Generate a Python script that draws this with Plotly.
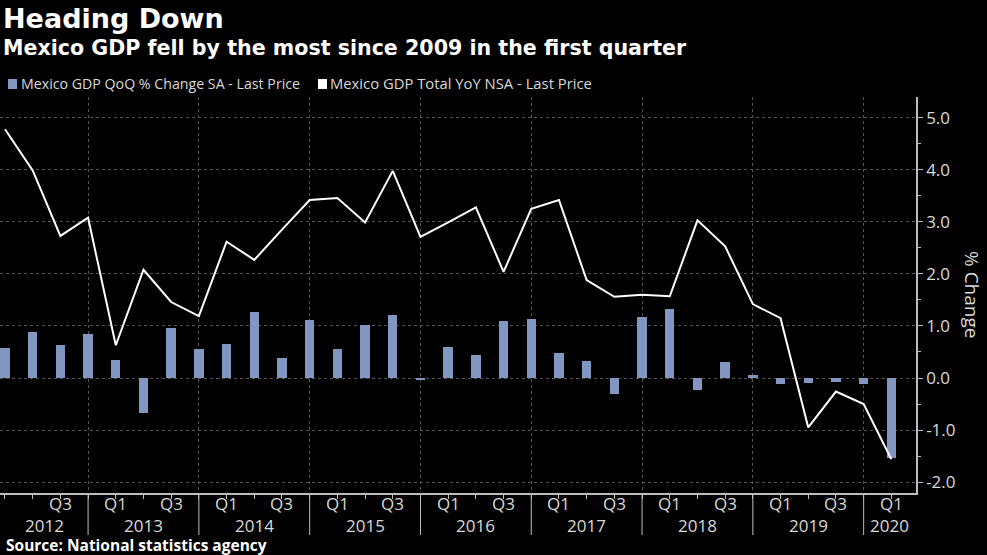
import plotly.graph_objects as go

# ---------------- data ----------------
quarters = [
    "2012 Q1", "2012 Q2", "2012 Q3", "2012 Q4",
    "2013 Q1", "2013 Q2", "2013 Q3", "2013 Q4",
    "2014 Q1", "2014 Q2", "2014 Q3", "2014 Q4",
    "2015 Q1", "2015 Q2", "2015 Q3", "2015 Q4",
    "2016 Q1", "2016 Q2", "2016 Q3", "2016 Q4",
    "2017 Q1", "2017 Q2", "2017 Q3", "2017 Q4",
    "2018 Q1", "2018 Q2", "2018 Q3", "2018 Q4",
    "2019 Q1", "2019 Q2", "2019 Q3", "2019 Q4",
    "2020 Q1",
]
qoq_sa = [
    0.57, 0.88, 0.63, 0.84,
    0.35, -0.67, 0.96, 0.55,
    0.65, 1.26, 0.38, 1.11,
    0.55, 1.02, 1.21, -0.02,
    0.60, 0.45, 1.10, 1.14,
    0.48, 0.33, -0.31, 1.17,
    1.33, -0.23, 0.30, 0.06,
    -0.12, -0.09, -0.07, -0.12,
    -1.53,
]
yoy_nsa = [
    4.78, 3.99, 2.73, 3.08,
    0.63, 2.08, 1.46, 1.19,
    2.62, 2.27, 2.85, 3.42,
    3.46, 2.99, 3.98, 2.71,
    2.99, 3.28, 2.04, 3.25,
    3.42, 1.88, 1.56, 1.60,
    1.57, 3.03, 2.53, 1.42,
    1.15, -0.95, -0.26, -0.50,
    -1.56,
]
years = ["2012", "2013", "2014", "2015", "2016", "2017", "2018", "2019", "2020"]
y_ticks = [-2, -1, 0, 1, 2, 3, 4, 5]
series_names = ["Mexico GDP QoQ % Change SA - Last Price",
                "Mexico GDP Total YoY NSA - Last Price"]
source_text = "Source: National statistics agency"
title_text = "Heading Down"
subtitle_text = "Mexico GDP fell by the most since 2009 in the first quarter"
y_title = "% Change"

# ---------------- styling ----------------
BAR_COLOR = "#8197c2"
TEXT = "#d9d9d9"
AXIS = "#bdbdbd"
GRID = "#555555"
FONT = "Open Sans"
BOLD = "DejaVu Sans"

W, H = 987, 555
ML, MR, MT, MB = 0, 71, 97, 62
PW, PH = W - ML - MR, H - MT - MB


def py(pix):
    """pixel row (from top of figure) -> paper y"""
    return (H - MB - pix) / PH


def px(pix):
    return (pix - ML) / PW


x = list(range(len(quarters)))
qnum = [q.split(" ")[1] for q in quarters]
year_sep = [i for i, q in enumerate(qnum) if q == "Q4"]

X0, X1 = -0.18, 32.89

fig = go.Figure()
fig.add_trace(go.Bar(
    x=x, y=qoq_sa, name=series_names[0], marker=dict(color=BAR_COLOR, line=dict(width=0)),
    width=0.34, showlegend=False,
))
fig.add_trace(go.Scatter(
    x=x, y=yoy_nsa, name=series_names[1], mode="lines",
    line=dict(color="#ffffff", width=2), showlegend=False,
))

fig.update_layout(
    width=W, height=H,
    margin=dict(l=ML, r=MR, t=MT, b=MB, autoexpand=False),
    paper_bgcolor="#000000", plot_bgcolor="#000000",
    font=dict(family=FONT, color=TEXT),
    bargap=0,
    showlegend=False,
)

fig.update_xaxes(
    range=[X0, X1],
    tickmode="array", tickvals=x, showticklabels=False,
    ticks="outside", ticklen=4, tickcolor=AXIS, tickwidth=1,
    showline=True, linecolor=AXIS, linewidth=1.5,
    showgrid=False, zeroline=False,
    minor=dict(tickmode="array", tickvals=year_sep, ticks="", showgrid=True,
               gridcolor=GRID, griddash="dot", gridwidth=1),
)
fig.update_yaxes(
    side="right", range=[-2.21, 5.40],
    tickmode="array", tickvals=y_ticks, ticktext=[f"{v:.1f}" for v in y_ticks],
    ticks="outside", ticklen=5, tickcolor=AXIS,
    tickfont=dict(size=17, color=TEXT, family=FONT),
    showline=True, linecolor=AXIS, linewidth=1.5,
    showgrid=True, gridcolor=GRID, griddash="dot", gridwidth=1,
    zeroline=False,
    minor=dict(dtick=0.5, tick0=0, ticks="outside", ticklen=3, tickcolor=AXIS, showgrid=False),
)

shapes = []
# year separators below the axis
for s in year_sep:
    shapes.append(dict(type="line", xref="x", yref="paper", x0=s, x1=s,
                       y0=0, y1=py(535), line=dict(color=AXIS, width=1)))
# legend swatches
shapes.append(dict(type="rect", xref="paper", yref="paper", x0=px(8), x1=px(17),
                   y0=py(89), y1=py(79), fillcolor=BAR_COLOR, line=dict(width=0)))
shapes.append(dict(type="rect", xref="paper", yref="paper", x0=px(318), x1=px(327),
                   y0=py(89), y1=py(79), fillcolor="#ffffff", line=dict(width=0)))

ann = []
ann.append(dict(text=f"<b>{title_text}</b>", x=px(1), y=py(19), xref="paper", yref="paper",
                xanchor="left", yanchor="middle", showarrow=False,
                font=dict(size=27, color="#ffffff", family=BOLD)))
ann.append(dict(text=f"<b>{subtitle_text}</b>", x=px(1), y=py(48), xref="paper", yref="paper",
                xanchor="left", yanchor="middle", showarrow=False,
                font=dict(size=20.6, color="#ffffff", family=BOLD)))
ann.append(dict(text=series_names[0], x=px(19), y=py(83), xref="paper", yref="paper",
                xanchor="left", yanchor="middle", showarrow=False,
                font=dict(size=14.2, color=TEXT, family=FONT)))
ann.append(dict(text=series_names[1], x=px(328), y=py(83), xref="paper", yref="paper",
                xanchor="left", yanchor="middle", showarrow=False,
                font=dict(size=14.8, color=TEXT, family=FONT)))
# quarter labels (only those that fit inside the axis range)
for xi, q in zip(x, qnum):
    if q in ("Q1", "Q3") and xi - 0.45 >= X0:
        ann.append(dict(text=q, x=xi, y=py(504), xref="x", yref="paper",
                        xanchor="center", yanchor="middle", showarrow=False,
                        font=dict(size=17, color=TEXT, family=FONT)))
# year labels
bounds = [X0] + year_sep + [X1]
for k, yr in enumerate(years):
    cx = (bounds[k] + bounds[k + 1]) / 2
    ann.append(dict(text=yr, x=cx, y=py(525), xref="x", yref="paper",
                    xanchor="center", yanchor="middle", showarrow=False,
                    font=dict(size=17, color=TEXT, family=FONT)))
ann.append(dict(text=y_title, x=px(972), y=py(295), xref="paper", yref="paper",
                xanchor="center", yanchor="middle", textangle=90, showarrow=False,
                font=dict(size=19, color=TEXT, family=FONT)))
ann.append(dict(text=f"<b>{source_text}</b>", x=px(4), y=py(544.5), xref="paper", yref="paper",
                xanchor="left", yanchor="middle", showarrow=False,
                font=dict(size=15.5, color="#ffffff", family=FONT)))
fig.update_layout(annotations=ann, shapes=shapes)

fig.write_html("out.html", config={"displayModeBar": False},
               post_script="document.body.style.margin='0px';")
